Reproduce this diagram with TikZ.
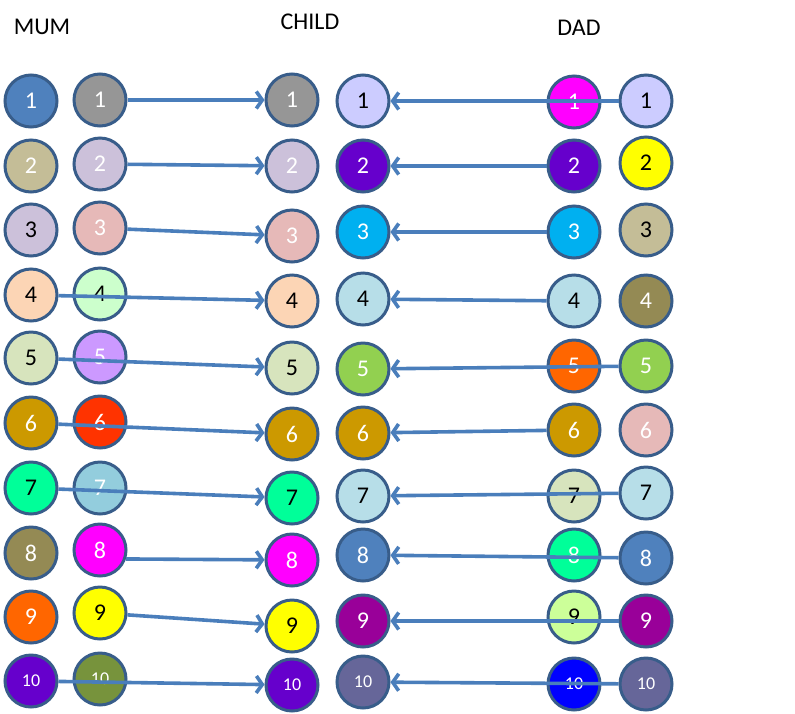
\documentclass[tikz,border=0pt]{standalone}
\usepackage{fontspec}
\setmainfont{Carlito}
\usetikzlibrary{arrows.meta}
\definecolor{edgeC}{HTML}{385D8A}
\definecolor{arrC}{HTML}{4A7EBB}
\definecolor{cBlue}{HTML}{4F81BD}
\definecolor{cTan}{HTML}{C4BD97}
\definecolor{cLilac}{HTML}{CCC1DA}
\definecolor{cPeach}{HTML}{FCD5B5}
\definecolor{cSage}{HTML}{D7E4BD}
\definecolor{cGold}{HTML}{CC9900}
\definecolor{cMint}{HTML}{00FF99}
\definecolor{cOlive}{HTML}{948A54}
\definecolor{cOrange}{HTML}{FF6600}
\definecolor{cPurple}{HTML}{6600CC}
\definecolor{cGray}{HTML}{969696}
\definecolor{cRose}{HTML}{E6B9B8}
\definecolor{cPaleGreen}{HTML}{CCFFCC}
\definecolor{cViolet}{HTML}{CC99FF}
\definecolor{cRed}{HTML}{FF3300}
\definecolor{cSky}{HTML}{93CDDD}
\definecolor{cMagenta}{HTML}{FF00FF}
\definecolor{cYellow}{HTML}{FFFF00}
\definecolor{cMoss}{HTML}{77933C}
\definecolor{cPeri}{HTML}{CCCCFF}
\definecolor{cCyan}{HTML}{00B0F0}
\definecolor{cIce}{HTML}{B7DEE8}
\definecolor{cLime}{HTML}{92D050}
\definecolor{cPlum}{HTML}{990099}
\definecolor{cSlate}{HTML}{666699}
\definecolor{cLightLime}{HTML}{CCFF99}
\definecolor{cPureBlue}{HTML}{0000FF}
\begin{document}
\begin{tikzpicture}[x=1pt,y=-1pt,
  ball/.style={circle,draw=edgeC,line width=3pt,minimum size=52pt,inner sep=0pt,font=\fontsize{24}{28}\selectfont},
  small/.style={font=\fontsize{18}{21}\selectfont},
  link/.style={draw=arrC,line width=3.6pt,-{Straight Barb[length=6pt,width=17pt]}},
  title/.style={font=\fontsize{24}{28}\selectfont}]
\useasboundingbox (0,0) rectangle (795,713);
\node[title] (tmum) at (42,27) {MUM};
\node[title] (tchild) at (310,22) {CHILD};
\node[title] (tdad) at (579,28) {DAD};
% MUM column 1
\foreach \n/\y/\f/\t in {1/101/cBlue/white,2/166/cTan/white,3/230/cLilac/black,4/295/cPeach/black,5/358/cSage/black,6/423/cGold/white,7/488/cMint/black,8/553/cOlive/white,9/617/cOrange/white}
  \node[ball,fill=\f,text=\t] (ma\n) at (31,\y) {\n};
\node[ball,small,fill=cPurple,text=white] (ma10) at (31,681) {10};
% MUM column 2
\foreach \n/\y/\f/\t in {1/100/cGray/white,2/164/cLilac/white,3/228/cRose/white,4/294/cPaleGreen/black,5/357/cViolet/white,6/422/cRed/white,7/488/cSky/white,8/550/cMagenta/white,9/613/cYellow/black}
  \node[ball,fill=\f,text=\t] (mb\n) at (100,\y) {\n};
\node[ball,small,fill=cMoss,text=white] (mb10) at (100,679) {10};
% CHILD column 1
\foreach \n/\y/\f/\t in {1/100/cGray/white,2/166/cLilac/white,3/236/cRose/white,4/301/cPeach/black,5/368/cSage/black,6/434/cGold/white,7/498/cMint/black,8/560/cMagenta/white,9/626/cYellow/black}
  \node[ball,fill=\f,text=\t] (ca\n) at (292,\y) {\n};
\node[ball,small,fill=cPurple,text=white] (ca10) at (292,685) {10};
% CHILD column 2
\foreach \n/\y/\f/\t in {1/101/cPeri/black,2/166/cPurple/white,3/232/cCyan/white,4/299/cIce/black,5/369/cLime/white,6/433/cGold/white,7/496/cIce/black,8/555/cBlue/white,9/621/cPlum/white}
  \node[ball,fill=\f,text=\t] (cb\n) at (363,\y) {\n};
\node[ball,small,fill=cSlate,text=white] (cb10) at (363,682) {10};
% DAD column 1
\foreach \n/\y/\f/\t in {1/102/cMagenta/white,2/166/cPurple/white,3/232/cCyan/white,4/301/cIce/black,5/366/cOrange/white,6/430/cGold/white,7/496/cSage/black,8/555/cMint/white,9/617/cLightLime/black}
  \node[ball,fill=\f,text=\t] (da\n) at (574,\y) {\n};
\node[ball,small,fill=cPureBlue,text=white] (da10) at (574,684) {10};
% DAD column 2
\foreach \n/\y/\f/\t in {1/101/cPeri/black,2/163/cYellow/black,3/230/cTan/black,4/301/cOlive/white,5/366/cLime/white,6/430/cRose/white,7/493/cIce/black,8/558/cBlue/white,9/621/cPlum/white}
  \node[ball,fill=\f,text=\t] (db\n) at (646,\y) {\n};
\node[ball,small,fill=cSlate,text=white] (db10) at (646,684) {10};
% mum to child
\foreach \n in {1,2,3,9} \draw[link] (mb\n) -- (ca\n);
\draw[link] (mb8.-19) -- (ca8);
\foreach \n in {4,5,6,7,10} \draw[link] (ma\n) -- (ca\n);
% dad to child
\foreach \n in {1,5,7,8,9,10} \draw[link] (db\n) -- (cb\n);
\foreach \n in {2,3,4,6} \draw[link] (da\n) -- (cb\n);
\end{tikzpicture}
\end{document}
